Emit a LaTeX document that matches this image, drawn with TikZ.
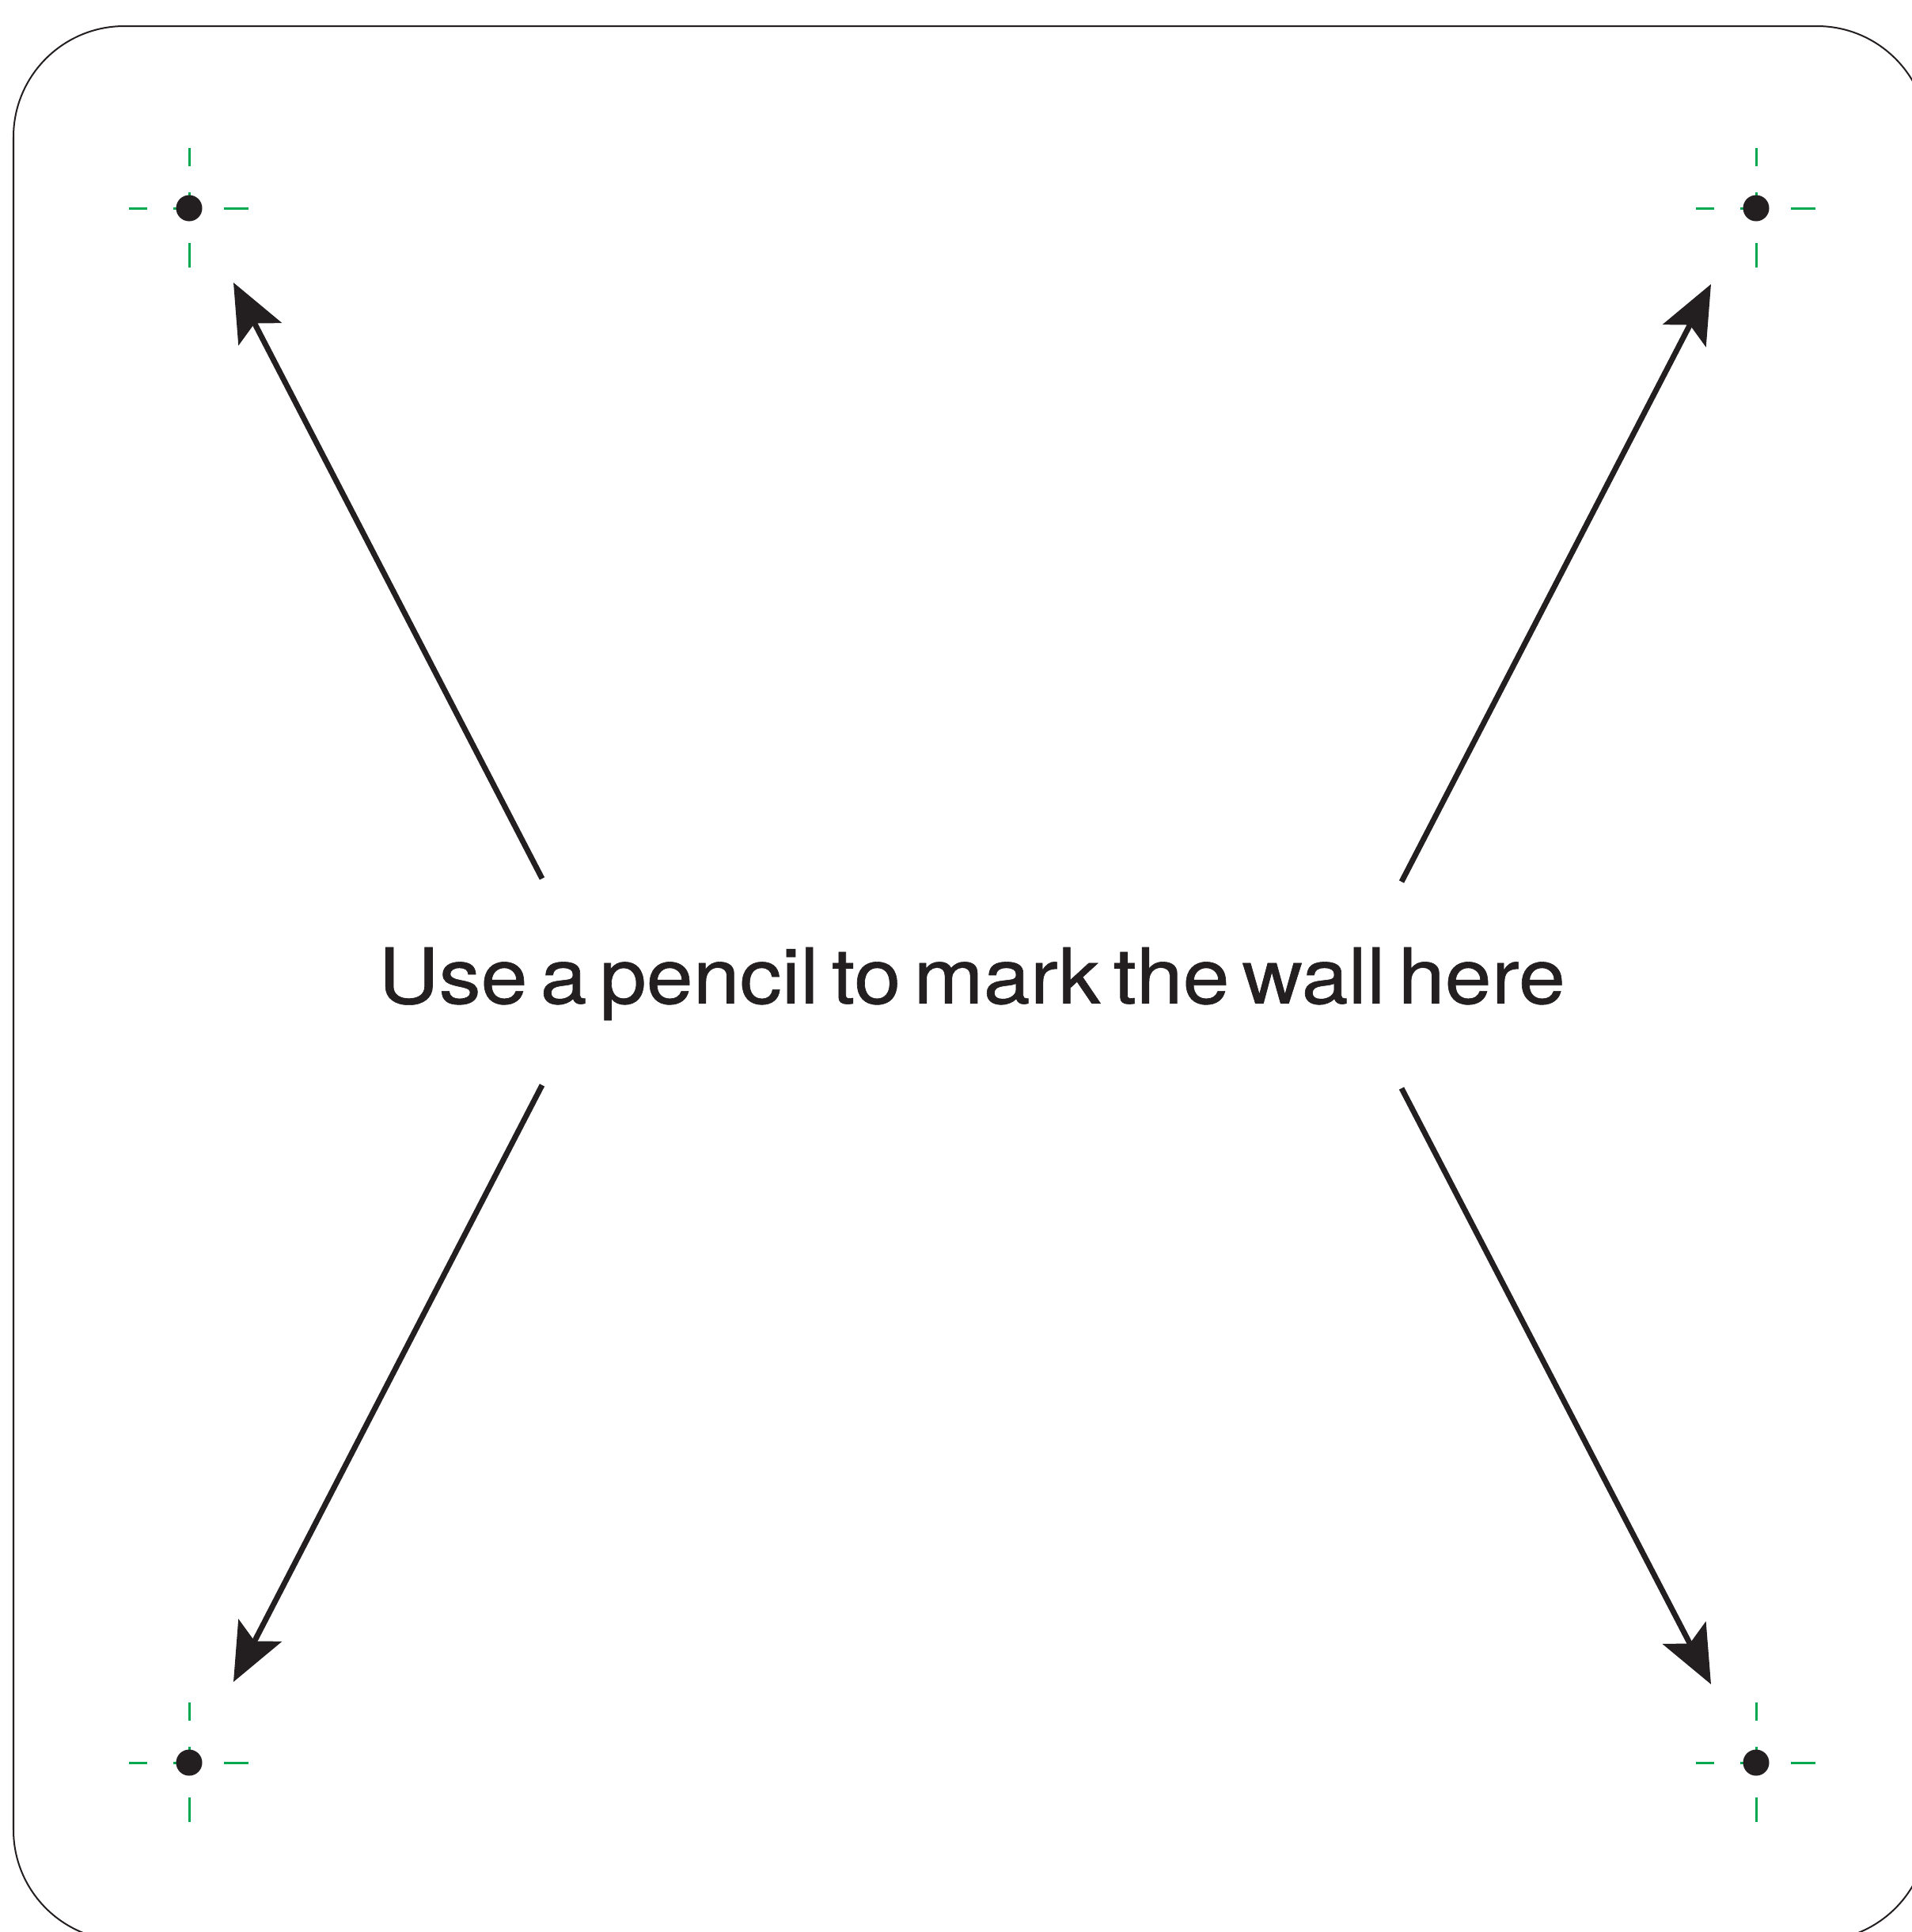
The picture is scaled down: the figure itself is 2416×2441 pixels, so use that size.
\documentclass[tikz,border=0pt]{standalone}
\usepackage{fontspec}
\setmainfont{TeX Gyre Heros}
\newfontfamily\msgfont[FakeBold=0.6,WordSpace=0.55]{TeX Gyre Heros}
\usetikzlibrary{arrows.meta}
\definecolor{ink}{RGB}{35,31,32}
\definecolor{markgreen}{RGB}{0,168,80}
\begin{document}
\begin{tikzpicture}[x=0.01cm,y=-0.01cm,
  frame/.style={draw=ink,line width=0.2mm,rounded corners=1.4cm},
  pointer/.style={draw=ink,line width=0.7mm,-{Stealth[length=7.3mm,width=6.1mm,inset=1.5mm]}},
  tick/.style={draw=markgreen,line width=0.3mm},
  dot/.style={circle,fill=ink,inner sep=0pt,minimum size=3.3mm},
  msgtext/.style={text=ink,inner sep=0pt,font=\msgfont\fontsize{27.7}{30}\selectfont},
  cross/.pic={
    \draw[tick] (-76,0)--(-53,0) (44,0)--(75,0) (0,-76)--(0,-53) (0,44)--(0,75)
                (-20,0)--(0,0) (0,-20)--(0,0);
    \node[dot] (-dot) at (0,0) {};
  }]
\useasboundingbox (0,0) rectangle (2416,2441);
\clip (0,0) rectangle (2416,2441);
\draw[frame] (17,33) rectangle (2436,2452);

\pic (tl) at (239,263) {cross};
\pic (tr) at (2219,263) {cross};
\pic (bl) at (239,2227) {cross};
\pic (br) at (2219,2227) {cross};

\node[msgtext] (msg) at (1228,1243) {\scalebox{1.088}[1]{Use a pencil to mark the wall here}};

\coordinate (tlA) at (685,1110);  \coordinate (tlB) at (295,357);
\coordinate (trA) at (1771,1114); \coordinate (trB) at (2162,359);
\coordinate (blA) at (685,1371);  \coordinate (blB) at (295,2125);
\coordinate (brA) at (1771,1375); \coordinate (brB) at (2162,2128);

\draw[pointer] (tlA) -- (tlB);
\draw[pointer] (trA) -- (trB);
\draw[pointer] (blA) -- (blB);
\draw[pointer] (brA) -- (brB);
\end{tikzpicture}
\end{document}
